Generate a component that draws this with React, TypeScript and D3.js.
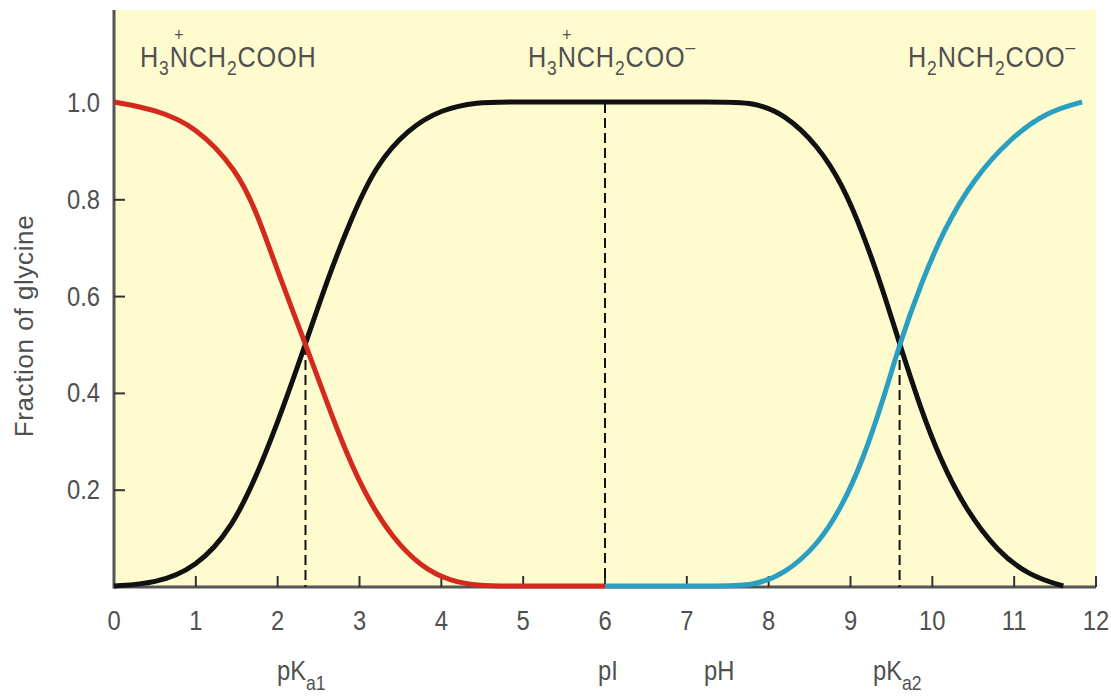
import React, { useEffect, useRef } from 'react';
import * as d3 from 'd3';

// values: pH vs fraction of glycine in each form
const phCation = [0, 0.5, 1.0, 1.5, 1.75, 2.0, 2.34, 2.6, 2.85, 3.1, 3.4, 3.75, 4.1, 4.5, 4.8, 6.0];
const fracCation = [1.0, 0.985, 0.95, 0.86, 0.77, 0.65, 0.5, 0.38, 0.27, 0.18, 0.1, 0.04, 0.01, 0, 0, 0];

const phZwitter = [0, 0.5, 1.0, 1.45, 1.8, 2.07, 2.34, 2.6, 2.9, 3.2, 3.6, 4.0, 4.45, 4.8, 6.0, 7.4, 7.8, 8.2, 8.6, 8.9, 9.15, 9.4, 9.6, 9.85, 10.1, 10.4, 10.8, 11.2, 11.6];
const fracZwitter = [0, 0.005, 0.037, 0.12, 0.25, 0.37, 0.5, 0.63, 0.76, 0.87, 0.945, 0.985, 1.0, 1.0, 1.0, 1.0, 1.0, 0.975, 0.91, 0.83, 0.73, 0.61, 0.5, 0.37, 0.26, 0.16, 0.07, 0.02, 0];

const phAnion = [6.0, 7.4, 7.8, 8.2, 8.6, 8.9, 9.15, 9.4, 9.6, 9.85, 10.15, 10.5, 10.95, 11.4, 11.83];
const fracAnion = [0, 0, 0, 0.025, 0.085, 0.165, 0.26, 0.385, 0.5, 0.62, 0.74, 0.84, 0.925, 0.98, 1.0];

const xTicks = [0, 1, 2, 3, 4, 5, 6, 7, 8, 9, 10, 11, 12];
const yTicks = [0.2, 0.4, 0.6, 0.8, 1.0];

// dashed markers: [pH, top fraction]
const markers: [number, number][] = [[2.34, 0.5], [6.0, 1.0], [9.6, 0.5]];

const FONT = '"Liberation Sans", Arial, sans-serif';
const GREY = '#505050';

const App = () => {
  const ref = useRef<SVGSVGElement | null>(null);

  useEffect(() => {
    if (!ref.current) return;
    const svg = d3.select(ref.current);
    svg.selectAll('*').remove();

    const x = d3.scaleLinear().domain([0, 12]).range([114, 1096]);
    const y = d3.scaleLinear().domain([0, 1]).range([587, 103]);

    svg.append('rect')
      .attr('x', x(0)).attr('y', 10)
      .attr('width', x(12) - x(0)).attr('height', y(0) - 10)
      .attr('fill', '#fefbcf');

    // axes
    svg.append('line')
      .attr('x1', x(0)).attr('x2', x(0)).attr('y1', 10).attr('y2', y(0) + 1.5)
      .attr('stroke', '#555').attr('stroke-width', 3);
    svg.append('line')
      .attr('x1', x(0)).attr('x2', x(12)).attr('y1', y(0)).attr('y2', y(0))
      .attr('stroke', '#555').attr('stroke-width', 3);

    svg.append('g').selectAll('line').data(xTicks.filter(d => d > 0)).enter().append('line')
      .attr('x1', d => x(d)).attr('x2', d => x(d))
      .attr('y1', y(0)).attr('y2', y(0) - 11)
      .attr('stroke', '#333').attr('stroke-width', 2);
    svg.append('g').selectAll('text').data(xTicks).enter().append('text')
      .attr('transform', d => `translate(${x(d)},630) scale(0.88,1)`)
      .attr('text-anchor', 'middle')
      .style('font-family', FONT).style('font-size', '27px').style('fill', GREY)
      .text(d => d);

    svg.append('g').selectAll('line').data(yTicks).enter().append('line')
      .attr('x1', x(0)).attr('x2', x(0) + 11)
      .attr('y1', d => y(d)).attr('y2', d => y(d))
      .attr('stroke', '#333').attr('stroke-width', 2);
    svg.append('g').selectAll('text').data(yTicks).enter().append('text')
      .attr('transform', d => `translate(100,${y(d) + 9}) scale(0.88,1)`)
      .attr('text-anchor', 'end')
      .style('font-family', FONT).style('font-size', '27px').style('fill', GREY)
      .text(d => d.toFixed(1));

    svg.append('text')
      .attr('transform', 'translate(33,326) rotate(-90)')
      .attr('text-anchor', 'middle')
      .style('font-family', FONT).style('font-size', '26px').style('letter-spacing', '0.6px')
      .style('fill', GREY)
      .text('Fraction of glycine');

    // dashed guide lines
    svg.append('g').selectAll('line').data(markers).enter().append('line')
      .attr('x1', d => x(d[0])).attr('x2', d => x(d[0]))
      .attr('y1', d => y(d[1])).attr('y2', y(0))
      .attr('stroke', '#111').attr('stroke-width', 2)
      .attr('stroke-dasharray', '10,5');

    const line = d3.line<[number, number]>()
      .x(d => x(d[0])).y(d => y(d[1]) - 1)
      .curve(d3.curveBasis);

    const series = [
      { ph: phZwitter, frac: fracZwitter, color: '#111' },
      { ph: phCation, frac: fracCation, color: '#d42a1e' },
      { ph: phAnion, frac: fracAnion, color: '#2a9fc2' },
    ];
    series.forEach(s => {
      svg.append('path')
        .datum(s.ph.map((p, i) => [p, s.frac[i]] as [number, number]))
        .attr('d', line)
        .attr('fill', 'none')
        .attr('stroke', s.color)
        .attr('stroke-width', 5);
    });

    // pK labels under the axis
    const subLabel = (px: number, main: string, sub: string) => {
      const t = svg.append('text')
        .attr('transform', `translate(${px},680) scale(0.88,1)`)
        .style('font-family', FONT).style('font-size', '27px').style('fill', GREY);
      t.append('tspan').text(main);
      if (sub) t.append('tspan').attr('dy', 10).style('font-size', '20px').text(sub);
    };
    subLabel(277, 'pK', 'a1');
    subLabel(598, 'pI', '');
    subLabel(704, 'pH', '');
    subLabel(873, 'pK', 'a2');

    // species formulas along the top
    // parts: [text, kind] kind: n normal, s subscript, p superscript
    const formula = (px: number, parts: [string, string][], plusIndex: number) => {
      const g = svg.append('g').attr('transform', `translate(${px},67) scale(0.87,1)`);
      const t = g.append('text')
        .style('font-family', FONT).style('font-size', '29px')
        .style('letter-spacing', '1px').style('fill', GREY);
      let shift = 0;
      parts.forEach(([str, kind]) => {
        const target = kind === 's' ? 8 : kind === 'p' ? -13 : 0;
        t.append('tspan')
          .attr('dy', target - shift)
          .style('font-size', kind === 'n' ? '29px' : '20px')
          .text(str);
        shift = target;
      });
      if (plusIndex >= 0) {
        const node = t.node() as SVGTextElement;
        const box = node.getExtentOfChar(plusIndex);
        g.append('text')
          .attr('x', box.x + box.width / 2 - 0.5).attr('y', -26)
          .attr('text-anchor', 'middle')
          .style('font-family', FONT).style('font-size', '18px').style('fill', GREY)
          .text('+');
      }
    };
    formula(140, [['H', 'n'], ['3', 's'], ['NCH', 'n'], ['2', 's'], ['COOH', 'n']], 2);
    formula(528, [['H', 'n'], ['3', 's'], ['NCH', 'n'], ['2', 's'], ['COO', 'n'], ['\u2013', 'p']], 2);
    formula(908, [['H', 'n'], ['2', 's'], ['NCH', 'n'], ['2', 's'], ['COO', 'n'], ['\u2013', 'p']], -1);
  }, []);

  return (
    <svg ref={ref} width={1111} height={700}
      style={{ position: 'absolute', left: 0, top: 0, background: '#fff' }} />
  );
};

export default App;
